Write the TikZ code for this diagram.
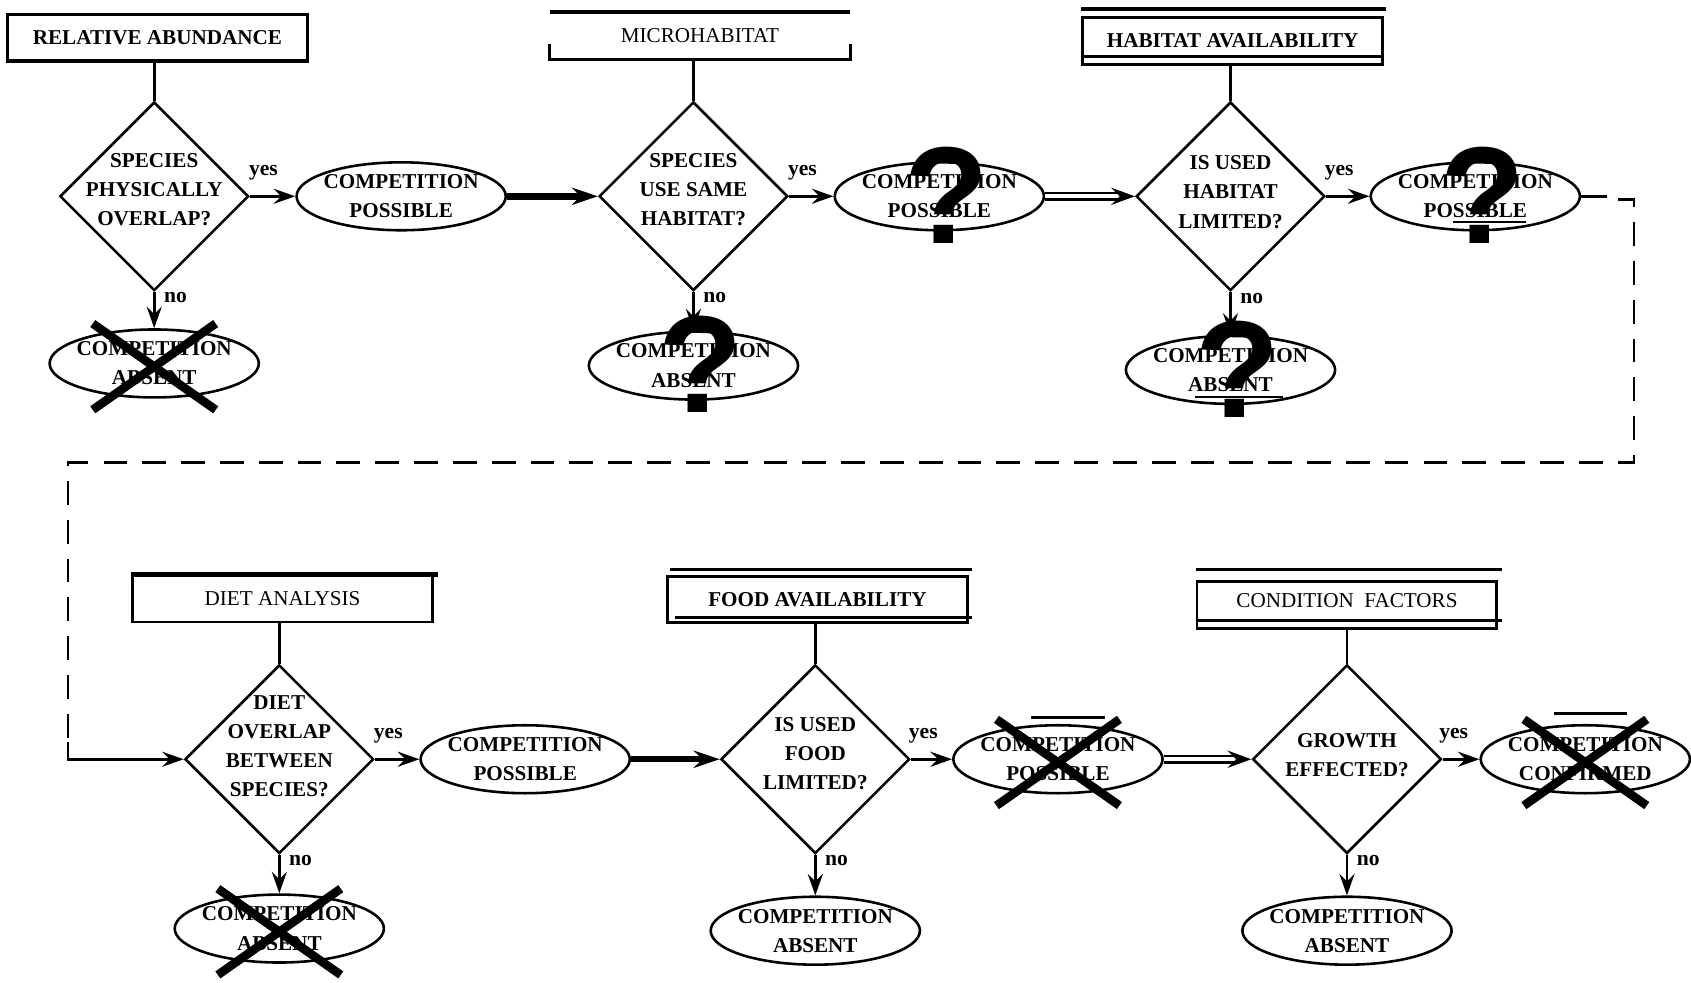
\documentclass[tikz,border=0pt]{standalone}
\usepackage{fontspec}
\setmainfont{Liberation Serif}
\newfontfamily\qfont{Liberation Sans}
\usetikzlibrary{shapes.geometric,arrows.meta}

\begin{document}
\begin{tikzpicture}[x=0.5pt,y=-0.5pt,
  every node/.style={inner sep=0pt},
  ask/.style={diamond,draw,line width=1.2pt,minimum width=87.5pt,minimum height=87.5pt,
    inner sep=-8pt,text depth=6pt,align=center,font=\fontsize{9.8}{13.5}\selectfont\bfseries},
  result/.style={ellipse,draw,line width=1.2pt,minimum width=97pt,minimum height=31.5pt,
    inner xsep=-2pt,align=center,font=\fontsize{9.8}{13.5}\selectfont\bfseries},
  header/.style={minimum width=139pt,minimum height=21.5pt,font=\fontsize{9.8}{12}\selectfont\bfseries},
  plain/.style={font=\fontsize{9.8}{12}\selectfont},
  tag/.style={font=\fontsize{10}{10}\selectfont\bfseries},
  stem/.style={line width=1.2pt},
  arr/.style={line width=1.2pt,-{Stealth[length=10pt,width=7pt,inset=3.5pt]}},
  heavy/.style={line width=3pt,-{Stealth[length=12pt,width=8pt,inset=4pt]}},
  twin/.style={double,double distance=2pt,line width=1pt,-{Stealth[length=11pt,width=8pt,inset=4pt]}},
  backlink/.style={line width=1.2pt,dash pattern=on 11pt off 7pt},
  xmark/.style={line width=4pt},
  qmark/.style={font=\qfont\bfseries\fontsize{64}{64}\selectfont}]
\useasboundingbox (0,0) rectangle (1568,911);

% first row
\node[header,draw,line width=1.5pt] (rel) at (146,35) {RELATIVE ABUNDANCE};
\node[ask] (d1) at (143,182) {SPECIES\\PHYSICALLY\\OVERLAP?};
\node[result] (p1) at (372,182) {COMPETITION\\POSSIBLE};
\node[result] (a1) at (143,337) {COMPETITION\\ABSENT};

\node[header,plain] (micro) at (649,33) {MICROHABITAT};
\node[ask] (d2) at (643,182) {SPECIES\\USE SAME\\HABITAT?};
\node[result] (p2) at (871,182) {COMPETITION\\POSSIBLE};
\node[result] (a2) at (643,339) {COMPETITION\\ABSENT};

\node[header,draw,line width=1.3pt] (hab) at (1143,38) {HABITAT AVAILABILITY};
\node[ask,text depth=4pt] (d3) at (1141,182) {IS USED\\HABITAT\\LIMITED?};
\node[result] (p3) at (1368,182) {COMPETITION\\POSSIBLE};
\node[result] (a3) at (1141,343) {COMPETITION\\ABSENT};

% second row
\node[header,plain,draw,line width=1.1pt] (diet) at (262,555) {DIET ANALYSIS};
\node[ask,text depth=12pt] (d4) at (259,704) {DIET\\OVERLAP\\BETWEEN\\SPECIES?};
\node[result] (p4) at (487,704) {COMPETITION\\POSSIBLE};
\node[result] (a4) at (259,861) {COMPETITION\\ABSENT};

\node[header,draw,line width=1.3pt] (food) at (758,556) {FOOD AVAILABILITY};
\node[ask,text depth=5pt] (d5) at (756,704) {IS USED\\FOOD\\LIMITED?};
\node[result] (p5) at (981,704) {COMPETITION\\POSSIBLE};
\node[result] (a5) at (756,863) {COMPETITION\\ABSENT};

\node[header,plain,draw,line width=1.3pt,text depth=4pt] (cond) at (1249,561) {CONDITION\ \ FACTORS};
\node[ask,text depth=4pt] (d6) at (1249,704) {GROWTH\\EFFECTED?};
\node[result] (p6) at (1470,704) {COMPETITION\\CONFIRMED};
\node[result] (a6) at (1249,863) {COMPETITION\\ABSENT};

% extra rules round the headers
\draw[line width=1.6pt] (micro.north west) -- (micro.north east);
\draw[line width=1.4pt] ([yshift=7pt]micro.south west) -- (micro.south west) -- (micro.south east) -- ([yshift=7pt]micro.south east);
\draw[line width=1.6pt] ([yshift=3.5pt]hab.north west) -- ([yshift=3.5pt,xshift=1pt]hab.north east);
\draw[line width=1.4pt] ([yshift=4pt]hab.south west) -- ([yshift=4pt]hab.south east);
\draw[line width=2.2pt] (diet.north west) -- ([xshift=2pt]diet.north east);
\draw[line width=1.6pt] ([yshift=2.5pt,xshift=2pt]food.north west) -- ([yshift=2.5pt,xshift=1.5pt]food.north east);
\draw[line width=1.4pt] ([yshift=3pt,xshift=4pt]food.south west) -- ([yshift=3pt,xshift=1.5pt]food.south east);
\draw[line width=1.6pt] ([yshift=5pt]cond.north west) -- ([yshift=5pt,xshift=1.5pt]cond.north east);
\draw[line width=1.4pt] ([yshift=4pt]cond.south west) -- ([yshift=4pt,xshift=1.5pt]cond.south east);

% flow
\foreach \h/\d in {rel/d1,micro/d2,hab/d3,diet/d4,food/d5,cond/d6}
  \draw[stem] (\d.north |- \h.south) -- (\d.north);
\foreach \d/\p/\a in {d1/p1/a1,d2/p2/a2,d3/p3/a3,d4/p4/a4,d5/p5/a5,d6/p6/a6} {
  \draw[arr] (\d.east) -- node[tag,above=7pt,pos=0.3] {yes} (\p.west);
  \draw[arr] (\d.south) -- node[tag,right=4pt,pos=0.15] {no} (\a.north);
}
\draw[heavy] (p1.east) -- (d2.west);
\draw[twin] (p2.east) -- (d3.west);
\draw[heavy] (p4.east) -- (d5.west);
\draw[twin] (p5.east) -- (d6.west);

% back to the second row
\coordinate (tail) at (1490,182);
\coordinate (bend0) at (1500,185);
\coordinate (bend1) at (1515,185);
\coordinate (bend2) at (1515,429);
\coordinate (bend3) at (63,429);
\coordinate (bend4) at (63,688);
\draw[stem] (p3.east) -- (tail);
\draw[backlink] (bend0) -- (bend1) -- (bend2) -- (bend3) -- (bend4);
\draw[arr] (bend4) |- (d4.west);

% struck out and doubtful outcomes
\foreach \n in {a1,a4,p5,p6}
  \draw[xmark] ([shift={(-57,-37)}]\n.center) -- ([shift={(57,43)}]\n.center)
               ([shift={(57,-37)}]\n.center) -- ([shift={(-57,43)}]\n.center);
\foreach \n in {p2,a2,p3,a3}
  \node[qmark] (q\n) at ([shift={(7,-1)}]\n.center) {?};
\draw[line width=1.4pt] ([shift={(-25,-39)}]p5.center) -- ([shift={(44,-39)}]p5.center);
\draw[line width=1.4pt] ([shift={(-29,-42)}]p6.center) -- ([shift={(39,-42)}]p6.center);
\draw[line width=0.8pt] ([shift={(-21,24)}]p3.center) -- ([shift={(47,24)}]p3.center);
\draw[line width=0.8pt] ([shift={(-33,25)}]a3.center) -- ([shift={(49,25)}]a3.center);
\end{tikzpicture}
\end{document}
